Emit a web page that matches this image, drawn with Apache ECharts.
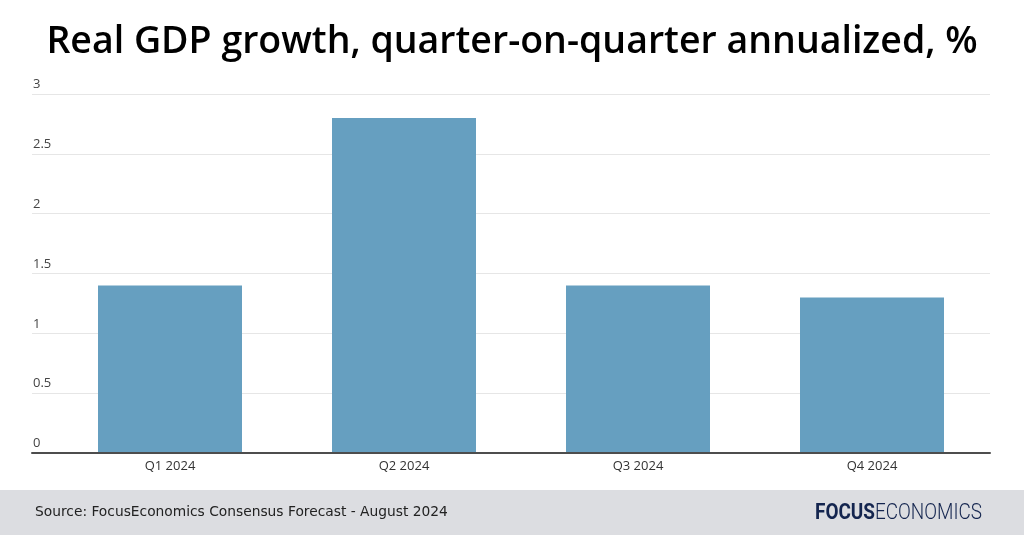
<!DOCTYPE html>
<html><head><meta charset="utf-8">
<script src="https://cdn.jsdelivr.net/npm/echarts@6/dist/echarts.min.js"></script>
<style>html,body{margin:0;padding:0;background:#fff}#c{width:1024px;height:535px}</style>
</head><body><div id="c"></div>
<script>
const categories = ['Q1 2024', 'Q2 2024', 'Q3 2024', 'Q4 2024'];
const growth = [1.4, 2.8, 1.4, 1.3];
const yTicks = { min: 0, max: 3, interval: 0.5 };
const titleText = 'Real GDP growth, quarter-on-quarter annualized, %';
const sourceText = 'Source: FocusEconomics Consensus Forecast - August 2024';

const chart = echarts.init(document.getElementById('c'), null, { renderer: 'canvas' });
chart.setOption({
  animation: false,
  backgroundColor: '#ffffff',
  title: {
    text: titleText, left: 'center', top: 18,
    textStyle: { fontFamily: 'Open Sans', fontSize: 37.5, fontWeight: 600, color: '#000' }
  },
  grid: [
    { left: 32, right: 34, top: 94, bottom: 82 },
    { left: 53, right: 35, top: 94, bottom: 82 }
  ],
  xAxis: [
    { gridIndex: 0, type: 'category', data: categories, axisLabel: { show: false }, axisTick: { show: false },
      axisLine: { show: true, lineStyle: { color: '#4d4d4d', width: 2 } }, z: 5 },
    { gridIndex: 1, type: 'category', data: categories, axisTick: { show: false }, axisLine: { show: false },
      axisLabel: { color: '#333', fontSize: 13, fontFamily: 'Open Sans', margin: 7 } }
  ],
  yAxis: [
    { gridIndex: 0, type: 'value', min: yTicks.min, max: yTicks.max, interval: yTicks.interval,
      axisLine: { show: false }, axisTick: { show: false },
      splitLine: { lineStyle: { color: '#e6e6e6', width: 1 } },
      axisLabel: { inside: true, margin: 1, align: 'left', verticalAlign: 'bottom', padding: [0,0,3,0],
        color: '#444', fontSize: 13, fontFamily: 'Open Sans' } },
    { gridIndex: 1, type: 'value', min: yTicks.min, max: yTicks.max, interval: yTicks.interval, show: false }
  ],
  series: [{
    type: 'bar', xAxisIndex: 1, yAxisIndex: 1, data: growth, barWidth: 144,
    itemStyle: { color: '#669fc0' }, z: 3
  }],
  graphic: [
    { type: 'rect', left: 0, top: 490, shape: { width: 1024, height: 45 }, style: { fill: '#dcdde1' }, z: -1 },
    { type: 'text', left: 35, top: 505, style: { text: sourceText, fontFamily: 'DejaVu Sans', fontSize: 13.8, fill: '#222' } },
    { type: 'text', left: 815, top: 502, scaleX: 0.86, originX: 815,
      style: { text: '{b|FOCUS}{n|ECONOMICS}', rich: {
        b: { fontFamily: 'Roboto', fontWeight: 'bold', fontSize: 22, fill: '#14254f' },
        n: { fontFamily: 'Roboto', fontWeight: 300, fontSize: 22, fill: '#14254f' } } } }
  ]
});
</script></body></html>
